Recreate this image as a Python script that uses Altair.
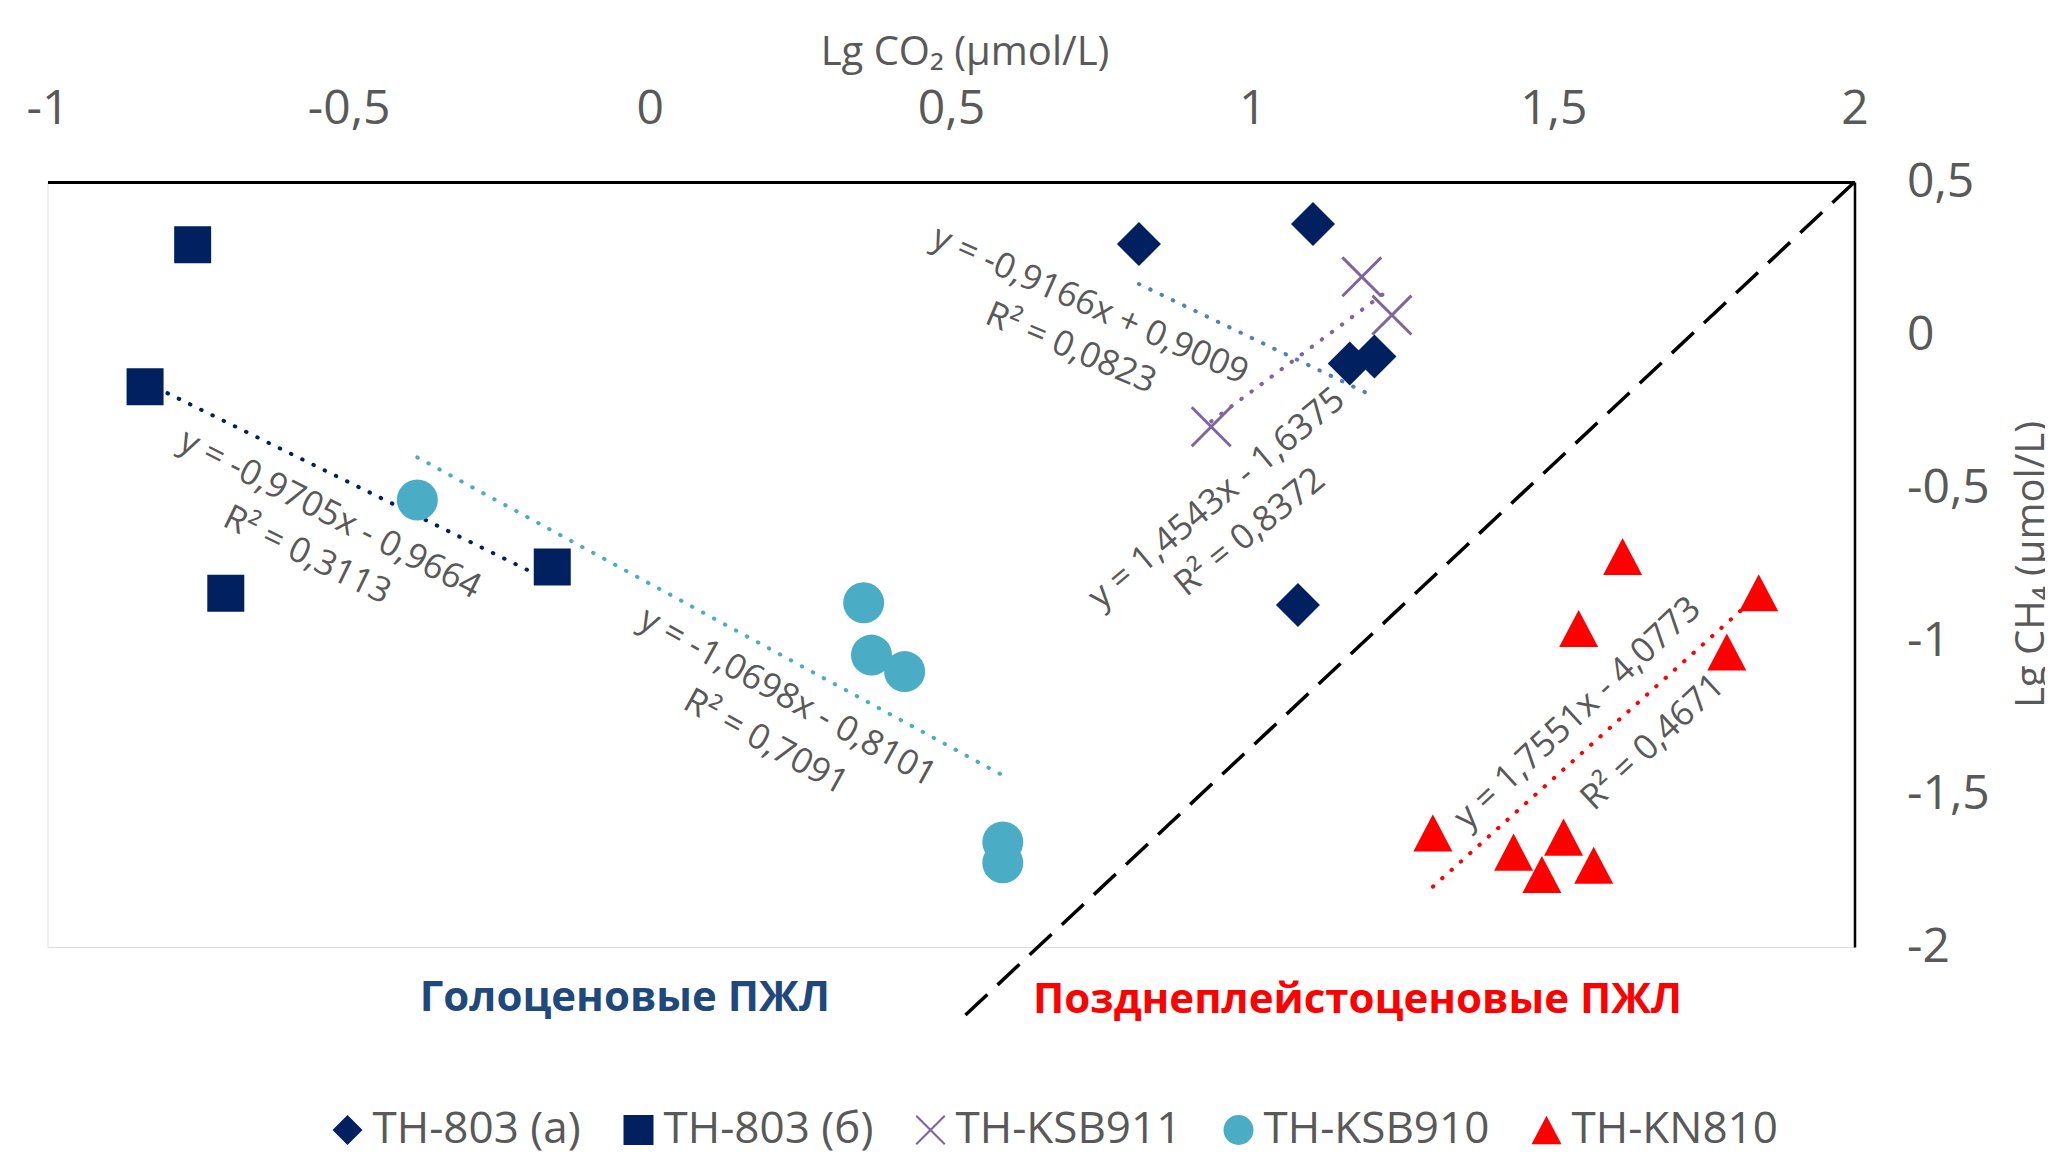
import altair as alt
import pandas as pd

# ---------------- data ----------------
series_names = ["TH-803 (а)", "TH-803 (б)", "TH-KSB911", "TH-KSB910", "TH-KN810"]

# TH-803 (а) — diamonds
a_x = [0.812, 1.101, 1.162, 1.203, 1.076]
a_y = [0.297, 0.363, -0.093, -0.070, -0.882]
# TH-803 (б) — squares
b_x = [-0.759, -0.838, -0.162, -0.704]
b_y = [0.295, -0.169, -0.758, -0.844]
# TH-KSB911 — crosses
c_x = [1.182, 1.232, 0.932]
c_y = [0.190, 0.065, -0.300]
# TH-KSB910 — circles
d_x = [-0.386, 0.355, 0.368, 0.423, 0.586, 0.586]
d_y = [-0.539, -0.875, -1.046, -1.100, -1.657, -1.725]
# TH-KN810 — triangles
e_x = [1.615, 1.841, 1.542, 1.788, 1.300, 1.434, 1.517, 1.481, 1.567]
e_y = [-0.724, -0.842, -0.959, -1.036, -1.627, -1.690, -1.641, -1.763, -1.733]

x_ticks = [-1, -0.5, 0, 0.5, 1, 1.5, 2]
y_ticks = [0.5, 0, -0.5, -1, -1.5, -2]

# trend-line equations (as printed on the chart)
eq_text = ["y = -0,9166x + 0,9009", "R² = 0,0823",
           "y = 1,4543x - 1,6375", "R² = 0,8372",
           "y = -0,9705x - 0,9664", "R² = 0,3113",
           "y = -1,0698x - 0,8101", "R² = 0,7091",
           "y = 1,7551x - 4,0773", "R² = 0,4671"]
eq_x = [0.731, 0.699, 0.941, 0.996, -0.531, -0.569, 0.229, 0.1925, 1.540, 1.665]
eq_y = [0.098, -0.0425, -0.533, -0.644, -0.585, -0.719, -1.183, -1.330, -1.235, -1.330]
eq_angle = [24, 23, 320, 321, 27, 26, 29, 29, 317, 317]

# boundary (dashed) line
dash_x = [0.524, 2.0]
dash_y = [-2.222, 0.5]

# region labels
reg_text = ["Голоценовые ПЖЛ", "Позднеплейстоценовые ПЖЛ"]
reg_x = [-0.0415, 1.175]
reg_y = [-2.167, -2.173]
reg_color = ["#1F497D", "#FF0000"]

# ---------------- styles ----------------
marker_colors = ["#002060", "#002060", "#8064A2", "#4BACC6", "#FF0000"]
trend_colors = ["#4F81BD", "#002060", "#8064A2", "#4BACC6", "#FF0000"]
X_PATH = ("M-1,-0.9L-0.9,-1L1,0.9L0.9,1Z"
          "M0.9,-1L1,-0.9L-0.9,1L-1,0.9Z")
TRI_PATH = "M0,-0.95L1,0.95L-1,0.95Z"
shapes = ["diamond", "square", X_PATH, "circle", TRI_PATH]
sizes = [1936, 1369, 1681, 1681, 1521]
GRAY = "#595959"
FONT = "Open Sans"

# ---------------- tables ----------------
rows = []
for name, xs, ys in zip(series_names, [a_x, b_x, c_x, d_x, e_x], [a_y, b_y, c_y, d_y, e_y]):
    for xv, yv in zip(xs, ys):
        rows.append({"series": name, "x": xv, "y": yv})
pts = pd.DataFrame(rows)
eq_df = pd.DataFrame({"text": eq_text, "x": eq_x, "y": eq_y, "angle": eq_angle})
dash_df = pd.DataFrame({"x": dash_x, "y": dash_y})
reg_df = pd.DataFrame({"text": reg_text, "x": reg_x, "y": reg_y, "color": reg_color})

names_js = "[" + ",".join("'" + s + "'" for s in series_names) + "]"
size_expr = "[" + ",".join(str(s) for s in sizes) + "][indexof(" + names_js + ", datum.series)]"
tcol_expr = "[" + ",".join("'" + c + "'" for c in trend_colors) + "][indexof(" + names_js + ", datum.series)]"

xscale = alt.Scale(domain=[-1, 2], nice=False, zero=False)
yscale = alt.Scale(domain=[-2, 0.5], nice=False, zero=False)
lab = "replace(toString(datum.value), '.', ',')"

xaxis = alt.Axis(orient="top", values=x_ticks, labelExpr=lab, ticks=False, tickSize=0,
                 grid=False, domainColor="black", domainWidth=3, labelFontSize=48,
                 labelColor=GRAY, labelFont=FONT, labelPadding=49, labelFlush=False,
                 labelOverlap=False, title="Lg CO₂ (µmol/L)", titleFontSize=40,
                 titleFontWeight="normal", titleColor=GRAY, titleFont=FONT,
                 titleX=917, titleY=-130, titleBaseline="middle", titleAlign="center")
yaxis = alt.Axis(orient="right", values=y_ticks, labelExpr=lab, ticks=False, tickSize=0,
                 grid=False, domainColor="black", domainWidth=2.5, labelFontSize=48,
                 labelColor=GRAY, labelFont=FONT, labelPadding=52, labelFlush=False,
                 labelOverlap=False, labelAlign="left", labelBaseline="middle",
                 title="Lg CH₄ (µmol/L)", titleFontSize=40, titleFontWeight="normal",
                 titleColor=GRAY, titleFont=FONT, titleAngle=270, titleX=177, titleY=382,
                 titleBaseline="middle", titleAlign="center")


def X():
    return alt.X("x:Q", scale=xscale, axis=xaxis)


def Y():
    return alt.Y("y:Q", scale=yscale, axis=yaxis)


leg = alt.Legend(orient="none", legendX=278, legendY=926, direction="horizontal", title=None,
                 labelFontSize=44, labelColor=GRAY, labelFont=FONT, labelLimit=500,
                 symbolSize=900, symbolStrokeWidth=0, labelOffset=3, columnPadding=35)

points = alt.Chart(pts).transform_calculate(msize=size_expr).mark_point(
    filled=True, opacity=1, strokeWidth=0
).encode(
    x=X(), y=Y(),
    color=alt.Color("series:N", scale=alt.Scale(domain=series_names, range=marker_colors), legend=leg),
    shape=alt.Shape("series:N", scale=alt.Scale(domain=series_names, range=shapes), legend=leg),
    size=alt.Size("msize:Q", scale=None),
)

trend = alt.Chart(pts).transform_regression(
    "x", "y", groupby=["series"], method="linear"
).transform_calculate(tcolor=tcol_expr).mark_line(
    strokeWidth=4, strokeDash=[0.5, 12], strokeCap="round"
).encode(
    x=X(), y=Y(),
    stroke=alt.Stroke("tcolor:N", scale=None),
    detail="series:N",
)

dashed = alt.Chart(dash_df).mark_line(color="black", strokeWidth=3.5, strokeDash=[30, 14]).encode(
    x=X(), y=Y()
)

eqs = alt.Chart(eq_df).mark_text(font=FONT, fontSize=35, color=GRAY, align="center",
                                  baseline="middle").encode(
    x=X(), y=Y(), text="text:N", angle=alt.Angle("angle:Q", scale=None)
)

regions = alt.Chart(reg_df).mark_text(font=FONT, fontSize=42, fontWeight="bold", align="center",
                                       baseline="middle").encode(
    x=X(), y=Y(), text="text:N", fill=alt.Fill("color:N", scale=None)
)

chart = alt.layer(trend, dashed, points, eqs, regions).properties(
    width=1807, height=765,
    padding={"left": 39.5, "top": 174, "right": 190.5, "bottom": 209},
    autosize=alt.AutoSizeParams(type="none"),
    background="white",
).configure_view(stroke=None).configure(font=FONT)

chart.save("out.html", embed_options={"renderer": "svg", "actions": False})
